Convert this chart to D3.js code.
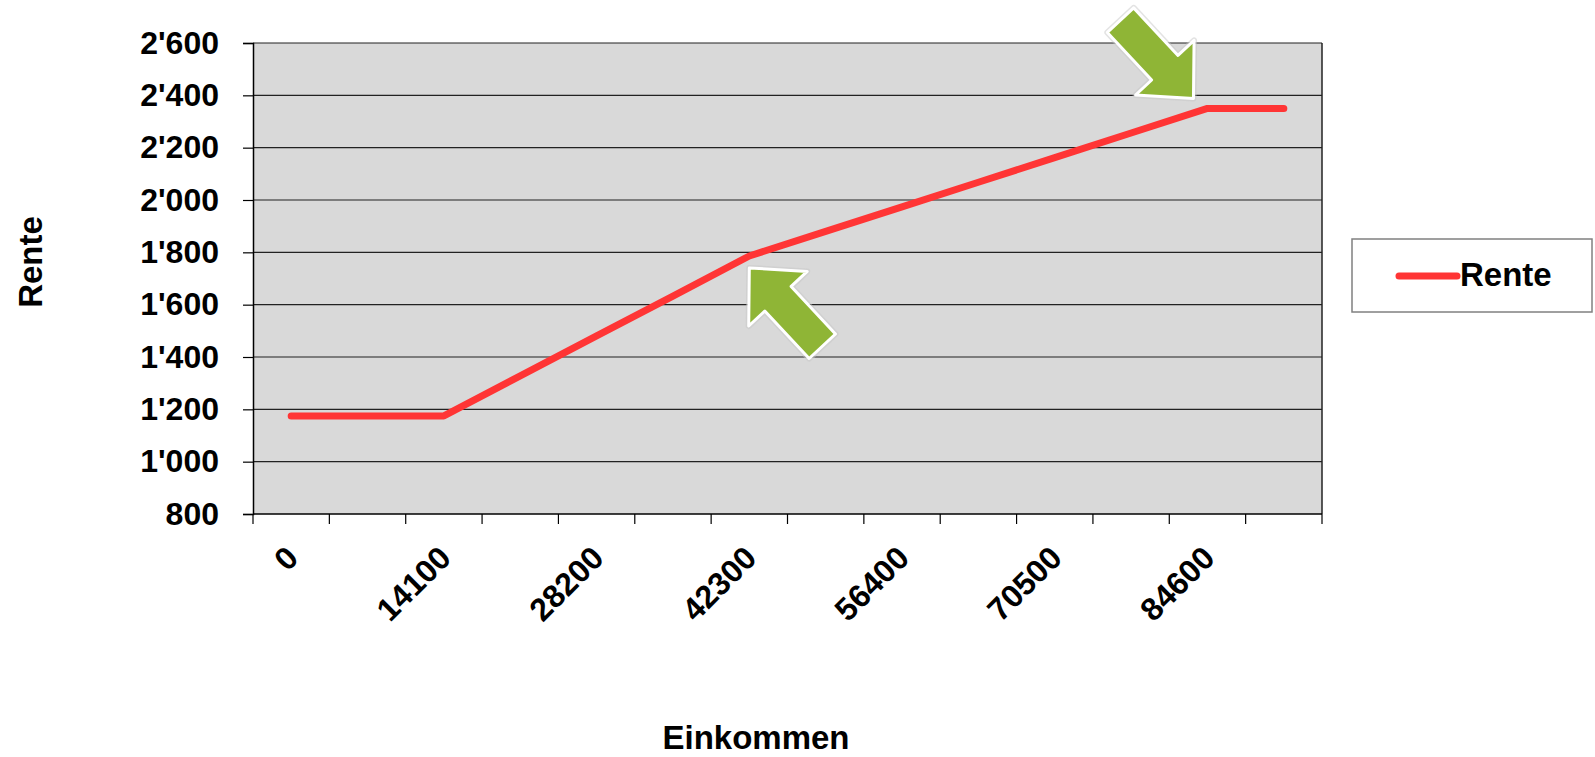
<!DOCTYPE html>
<html>
<head>
<meta charset="utf-8">
<script src="https://cdn.jsdelivr.net/npm/d3@7"></script>
<style>
  body { margin: 0; background: #fff; }
  svg text { font-family: "Liberation Sans", Arial, sans-serif; font-weight: bold; fill: #000; }
</style>
</head>
<body>
<div id="chart"></div>
<script>
// Einkommen categories (one per band) and the pension
const incomes = [0, 7050, 14100, 21150, 28200, 35250, 42300, 49350, 56400, 63450, 70500, 77550, 84600, 91650];
const renten = [1175, 1175, 1175, 1328, 1481, 1633, 1786, 1880, 1974, 2068, 2162, 2256, 2350, 2350];
const yTicks = [800, 1000, 1200, 1400, 1600, 1800, 2000, 2200, 2400, 2600];
const labelledIncomes = [0, 14100, 28200, 42300, 56400, 70500, 84600];
// kinks marked by the green arrows
const arrowPoints = [42300, 84600];

const W = 1595, H = 757;
const margin = { top: 43, right: 273, bottom: 243, left: 253 };
const innerW = W - margin.left - margin.right;
const innerH = H - margin.top - margin.bottom;

const svg = d3.select('#chart').append('svg')
    .attr('width', W)
    .attr('height', H);

const g = svg.append('g')
    .attr('transform', `translate(${margin.left},${margin.top})`);

const x = d3.scaleBand()
    .domain(incomes)
    .range([0, innerW])
    .padding(0);

const y = d3.scaleLinear()
    .domain([800, 2600])
    .range([innerH, 0]);

const swiss = d3.formatLocale({ decimal: '.', thousands: "'", grouping: [3], currency: ['', ''] });
const fmt = swiss.format(',');

const cx = d => x(d) + x.bandwidth() / 2;

// plot background
g.append('rect')
    .attr('width', innerW)
    .attr('height', innerH)
    .attr('fill', '#d9d9d9');

// gridlines
g.selectAll('.grid')
    .data(yTicks.slice(1))
    .enter().append('line')
    .attr('class', 'grid')
    .attr('x1', 0)
    .attr('x2', innerW)
    .attr('y1', d => y(d))
    .attr('y2', d => y(d))
    .attr('stroke', '#222')
    .attr('stroke-width', 1.2);

// right border
g.append('line')
    .attr('x1', innerW).attr('x2', innerW)
    .attr('y1', 0).attr('y2', innerH)
    .attr('stroke', '#222')
    .attr('stroke-width', 1.5);

// y axis
const yAxis = g.append('g')
    .call(d3.axisLeft(y).tickValues(yTicks).tickFormat(fmt).tickSize(10).tickPadding(24));
yAxis.select('.domain').attr('stroke', '#000').attr('stroke-width', 1.5);
yAxis.selectAll('.tick line').attr('stroke', '#000').attr('stroke-width', 1.2);
yAxis.selectAll('.tick text')
    .attr('font-size', 32)
    .attr('font-family', '"Liberation Sans", Arial, sans-serif')
    .attr('font-weight', 'bold')
    .attr('fill', '#000');

// x axis: baseline, ticks at band edges, rotated labels
g.append('line')
    .attr('x1', 0).attr('x2', innerW)
    .attr('y1', innerH).attr('y2', innerH)
    .attr('stroke', '#000')
    .attr('stroke-width', 1.5);

const edges = incomes.map(d => x(d)).concat([innerW]);
g.selectAll('.xtick')
    .data(edges)
    .enter().append('line')
    .attr('class', 'xtick')
    .attr('x1', d => d).attr('x2', d => d)
    .attr('y1', innerH).attr('y2', innerH + 10)
    .attr('stroke', '#000')
    .attr('stroke-width', 1.2);

g.selectAll('.xlabel')
    .data(labelledIncomes)
    .enter().append('text')
    .attr('class', 'xlabel')
    .attr('transform', d => `translate(${cx(d) + 9},${innerH + 46}) rotate(-45)`)
    .attr('text-anchor', 'end')
    .attr('font-size', 32)
    .text(d => d);

// Rente line
const line = d3.line()
    .x((d, i) => cx(incomes[i]))
    .y(d => y(d));

g.append('path')
    .datum(renten)
    .attr('d', line)
    .attr('fill', 'none')
    .attr('stroke', '#ff3535')
    .attr('stroke-width', 7)
    .attr('stroke-linecap', 'round')
    .attr('stroke-linejoin', 'round');

// green arrows (tip at origin, tail along +x)
const arrowShape = 'M0,0 L42,-40 L42,-18 L107,-18 L107,18 L42,18 L42,40 Z';
const arrowSpec = [
    { dx: 0, dy: 12, angle: 47 },
    { dx: -14, dy: -10, angle: -133 }
];
arrowPoints.forEach((inc, i) => {
    const idx = incomes.indexOf(inc);
    const px = cx(inc) + arrowSpec[i].dx;
    const py = y(renten[idx]) + arrowSpec[i].dy;
    const a = g.append('g')
        .attr('transform', `translate(${px},${py}) rotate(${arrowSpec[i].angle})`);
    a.append('path')
        .attr('d', arrowShape)
        .attr('fill', 'none')
        .attr('stroke', '#c8c8c8')
        .attr('stroke-width', 6)
        .attr('stroke-linejoin', 'round')
        .attr('opacity', 0.5);
    a.append('path')
        .attr('d', arrowShape)
        .attr('fill', '#8fb536')
        .attr('stroke', '#ffffff')
        .attr('stroke-width', 3)
        .attr('stroke-linejoin', 'round');
});

// axis titles
svg.append('text')
    .attr('transform', 'translate(42,262) rotate(-90)')
    .attr('text-anchor', 'middle')
    .attr('font-size', 33)
    .text('Rente');

svg.append('text')
    .attr('x', 756)
    .attr('y', 749)
    .attr('text-anchor', 'middle')
    .attr('font-size', 33)
    .text('Einkommen');

// legend
const legend = svg.append('g').attr('transform', 'translate(1352,239)');
legend.append('rect')
    .attr('width', 240)
    .attr('height', 73)
    .attr('fill', '#fff')
    .attr('stroke', '#808080')
    .attr('stroke-width', 1.5);
legend.append('line')
    .attr('x1', 47).attr('x2', 105)
    .attr('y1', 37).attr('y2', 37)
    .attr('stroke', '#ff3535')
    .attr('stroke-width', 7)
    .attr('stroke-linecap', 'round');
legend.append('text')
    .attr('x', 108)
    .attr('y', 47)
    .attr('font-size', 33)
    .text('Rente');
</script>
</body>
</html>
